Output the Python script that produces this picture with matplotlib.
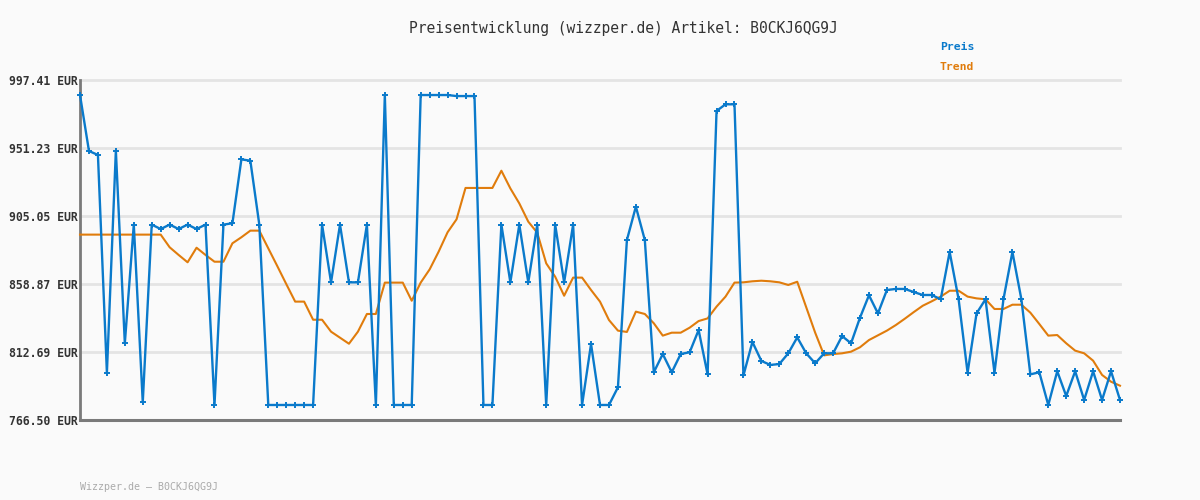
import matplotlib
matplotlib.use("Agg")
import matplotlib.pyplot as plt

title = "Preisentwicklung (wizzper.de) Artikel: B0CKJ6QG9J"
footer = "Wizzper.de \u2013 B0CKJ6QG9J"
y_ticks = [766.50, 812.69, 858.87, 905.05, 951.23, 997.41]

preis = [
    987.2, 949.2, 946.5, 798.6, 949.4, 818.6, 899.2, 778.5, 899.2, 896.2,
    899.2, 896.2, 899.2, 896.2, 899.2, 776.7, 899.2, 900.1, 943.5, 942.6,
    899.2, 776.7, 776.7, 776.7, 776.7, 776.7, 776.7, 899.2, 860.0, 899.2,
    860.0, 860.0, 899.2, 776.7, 987.2, 776.7, 776.7, 776.7, 987.2, 987.2,
    987.2, 987.2, 986.5, 986.5, 986.5, 776.7, 776.7, 899.2, 860.0, 899.2,
    860.0, 899.2, 776.7, 899.2, 860.0, 899.2, 776.7, 818.1, 776.7, 776.7,
    788.7, 888.7, 911.4, 888.7, 798.9, 811.3, 798.9, 811.3, 812.5, 827.6,
    797.5, 976.4, 980.9, 980.9, 796.8, 819.5, 806.6, 803.9, 804.5, 811.8,
    822.6, 811.8, 805.0, 811.8, 811.8, 823.5, 818.6, 836.0, 851.2, 838.9,
    854.8, 855.5, 855.5, 853.4, 851.4, 851.4, 848.5, 880.6, 848.5, 798.6,
    838.9, 848.5, 798.6, 848.5, 880.6, 848.5, 797.5, 798.9, 776.7, 799.6,
    782.8, 799.6, 780.1, 799.6, 780.1, 799.6, 780.1,
]

trend = [
    892.4, 892.4, 892.4, 892.4, 892.4, 892.4, 892.4, 892.4, 892.4, 892.4,
    883.8, 878.6, 873.6, 883.5, 878.6, 874.0, 874.0, 886.5, 890.6, 895.1,
    895.1, 883.1, 871.1, 858.9, 846.9, 846.9, 834.6, 834.6, 826.5, 822.4,
    818.3, 826.5, 838.5, 838.5, 859.8, 859.8, 859.8, 847.5, 859.8, 868.8,
    880.8, 894.0, 902.8, 924.1, 924.1, 924.1, 924.1, 935.8, 923.8, 913.6,
    901.2, 893.7, 872.9, 863.8, 850.9, 863.2, 863.2, 854.8, 846.9, 834.4,
    827.2, 826.3, 840.1, 838.5, 832.2, 823.8, 825.8, 825.8, 829.2, 833.7,
    835.5, 843.5, 850.3, 859.8, 860.0, 860.7, 861.1, 860.7, 860.0, 858.2,
    860.4, 843.1, 825.8, 810.4, 811.3, 811.8, 812.9, 815.9, 820.8, 824.0,
    827.2, 831.0, 835.3, 839.8, 844.1, 847.1, 850.3, 854.3, 854.3, 850.3,
    849.1, 848.5, 841.9, 841.9, 844.8, 844.8, 839.4, 831.7, 823.8, 824.2,
    818.6, 813.6, 811.8, 806.8, 797.1, 792.5, 789.8,
]

BLUE = "#0a7acb"
ORANGE = "#e07c0c"
BG = "#fafafa"
MONO = "DejaVu Sans Mono"

fig = plt.figure(figsize=(12, 5), dpi=100, facecolor=BG)
ax = fig.add_axes([80 / 1200, 1 - 420 / 500, 1040 / 1200, 340 / 500])
ax.set_facecolor(BG)

x = list(range(len(preis)))
ax.set_xlim(0, len(preis) - 1)
ax.set_ylim(y_ticks[0], y_ticks[-1])

for v in y_ticks[1:]:
    ax.axhline(v, color="#e4e4e4", lw=2.0, zorder=1, clip_on=False)

ax.plot(x, trend, color=ORANGE, lw=1.5, zorder=3, clip_on=False)
ax.plot(x, preis, color=BLUE, lw=1.7, zorder=4, marker="+", markersize=3.8,
        markeredgewidth=1.4, markeredgecolor=BLUE, clip_on=False)

for s in ["top", "right"]:
    ax.spines[s].set_visible(False)
ax.spines["left"].set_color("#7a7a7a")
ax.spines["left"].set_linewidth(2)
ax.spines["bottom"].set_color("#7a7a7a")
ax.spines["bottom"].set_linewidth(2.2)

ax.set_xticks([])
ax.set_yticks(y_ticks)
ax.set_yticklabels([f"{v:.2f} EUR" for v in y_ticks], fontfamily=MONO,
                   fontsize=8.3, fontweight="bold", color="#333333")
ax.tick_params(axis="y", length=0, pad=1.5)

fig.text(623 / 1200, 1 - 28 / 500, title, ha="center", va="center",
         fontfamily=MONO, fontsize=10.5, color="#333333")
fig.text(940 / 1200, 1 - 47 / 500, "Preis", ha="left", va="center",
         fontfamily=MONO, fontsize=8.2, fontweight="bold", color=BLUE)
fig.text(940 / 1200, 1 - 67 / 500, "Trend", ha="left", va="center",
         fontfamily=MONO, fontsize=8.2, fontweight="bold", color=ORANGE)
fig.text(80 / 1200, 1 - 487 / 500, footer, ha="left", va="center",
         fontfamily=MONO, fontsize=7.2, color="#aaaaaa")

fig.savefig("out.png", dpi=100, facecolor=BG)
